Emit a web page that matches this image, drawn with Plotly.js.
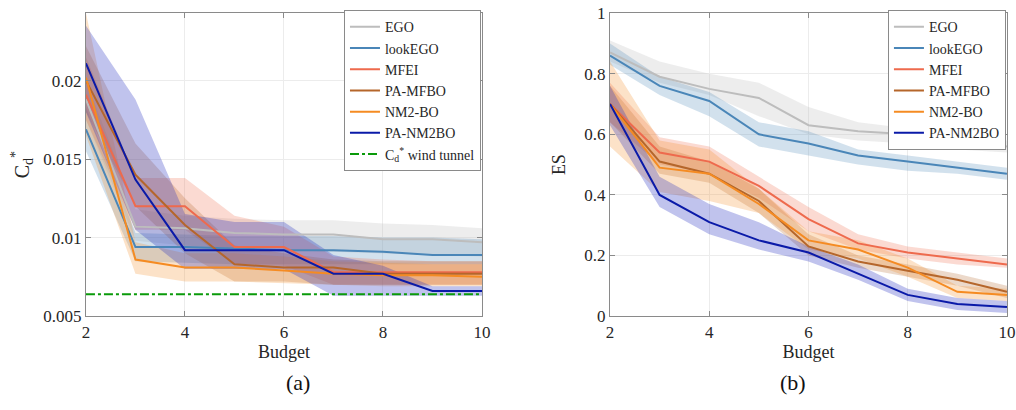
<!DOCTYPE html>
<html><head><meta charset="utf-8">
<script src="https://cdn.plot.ly/plotly-3.0.1.min.js"></script>
<style>html,body{margin:0;padding:0;background:#fff}#chart{width:1016px;height:410px}</style>
</head><body><div id="chart"></div>
<script>
const budget = [2,3,4,5,6,7,8,9,10];
const methods = ["EGO","lookEGO","MFEI","PA-MFBO","NM2-BO","PA-NM2BO"];

// (a) Cd*
const cdEGO      = [0.0188,0.0107,0.0106,0.0103,0.0102,0.0102,0.0099,0.0099,0.0097];
const cdLookEGO  = [0.0169,0.0094,0.0094,0.0093,0.0092,0.0092,0.0091,0.0089,0.0089];
const cdMFEI     = [0.0191,0.0120,0.0120,0.0094,0.0094,0.0078,0.0078,0.0078,0.0078];
const cdPAMFBO   = [0.0200,0.0140,0.0108,0.0083,0.0081,0.0081,0.0077,0.0077,0.0077];
const cdNM2BO    = [0.0202,0.0086,0.0081,0.0081,0.0079,0.0077,0.0076,0.0076,0.0075];
const cdPANM2BO  = [0.0211,0.0137,0.0092,0.0092,0.0092,0.0077,0.0077,0.0066,0.0066];
const cdWindTunnel = 0.0064;

const cdEGOLo     = [0.0175,0.0098,0.0095,0.0093,0.0092,0.0091,0.0090,0.0089,0.0088];
const cdEGOHi     = [0.0200,0.0118,0.0114,0.0112,0.0111,0.0111,0.0109,0.0108,0.0106];
const cdLookEGOLo = [0.0155,0.0085,0.0084,0.0083,0.0083,0.0083,0.0083,0.0083,0.0083];
const cdLookEGOHi = [0.0183,0.0103,0.0102,0.0101,0.0101,0.0101,0.0100,0.0100,0.0099];
const cdMFEILo    = [0.0175,0.0105,0.0105,0.0083,0.0082,0.0070,0.0070,0.0070,0.0070];
const cdMFEIHi    = [0.0215,0.0138,0.0138,0.0114,0.0107,0.0088,0.0086,0.0085,0.0085];
const cdPAMFBOLo  = [0.0180,0.0120,0.0090,0.0072,0.0072,0.0070,0.0070,0.0070,0.0070];
const cdPAMFBOHi  = [0.0222,0.0160,0.0125,0.0095,0.0090,0.0086,0.0085,0.0085,0.0085];
const cdNM2BOLo   = [0.0165,0.0077,0.0072,0.0072,0.0071,0.0070,0.0069,0.0069,0.0069];
const cdNM2BOHi   = [0.0243,0.0097,0.0090,0.0090,0.0088,0.0085,0.0084,0.0083,0.0083];
const cdPANM2BOLo = [0.0180,0.0105,0.0080,0.0080,0.0080,0.0063,0.0063,0.0063,0.0063];
const cdPANM2BOHi = [0.0235,0.0188,0.0115,0.0110,0.0110,0.0089,0.0082,0.0069,0.0069];

// (b) ES
const esEGO      = [0.87,0.79,0.75,0.72,0.63,0.61,0.60,0.58,0.56];
const esLookEGO  = [0.86,0.76,0.71,0.60,0.57,0.53,0.51,0.49,0.47];
const esMFEI     = [0.70,0.54,0.51,0.43,0.32,0.24,0.21,0.19,0.17];
const esPAMFBO   = [0.70,0.51,0.47,0.38,0.23,0.18,0.15,0.12,0.08];
const esNM2BO    = [0.70,0.49,0.47,0.37,0.25,0.22,0.16,0.08,0.07];
const esPANM2BO  = [0.70,0.40,0.31,0.25,0.21,0.14,0.07,0.04,0.03];

const esEGOLo     = [0.84,0.77,0.73,0.66,0.60,0.58,0.57,0.55,0.54];
const esEGOHi     = [0.91,0.84,0.80,0.77,0.69,0.64,0.62,0.60,0.58];
const esLookEGOLo = [0.83,0.73,0.66,0.56,0.53,0.50,0.48,0.47,0.45];
const esLookEGOHi = [0.90,0.79,0.74,0.64,0.61,0.55,0.53,0.51,0.49];
const esMFEILo    = [0.64,0.50,0.47,0.39,0.28,0.22,0.19,0.17,0.16];
const esMFEIHi    = [0.77,0.59,0.56,0.46,0.36,0.27,0.23,0.21,0.19];
const esPAMFBOLo  = [0.64,0.47,0.44,0.34,0.20,0.16,0.13,0.10,0.06];
const esPAMFBOHi  = [0.76,0.56,0.51,0.42,0.27,0.20,0.17,0.14,0.10];
const esNM2BOLo   = [0.56,0.41,0.38,0.34,0.22,0.19,0.13,0.06,0.05];
const esNM2BOHi   = [0.84,0.58,0.55,0.42,0.28,0.25,0.19,0.10,0.09];
const esPANM2BOLo = [0.63,0.36,0.27,0.22,0.18,0.12,0.05,0.02,0.01];
const esPANM2BOHi = [0.76,0.46,0.37,0.31,0.23,0.17,0.09,0.06,0.05];

const xTicks = [2,4,6,8,10];
const cdTicks = [0.005,0.01,0.015,0.02];
const cdTickText = ["0.005","0.01","0.015","0.02"];
const esTicks = [0,0.2,0.4,0.6,0.8,1];
const esTickText = ["0","0.2","0.4","0.6","0.8","1"];

const lineColors = ["#bdbdbd","#4a86b8","#ee6a4d","#b5662b","#f58b22","#0a1aa8"];
const bandColors = ["rgba(190,190,190,0.28)","rgba(74,134,184,0.25)","rgba(238,106,77,0.25)",
                    "rgba(181,102,43,0.25)","rgba(245,139,34,0.25)","rgba(30,40,190,0.28)"];

const cdMeans = [cdEGO,cdLookEGO,cdMFEI,cdPAMFBO,cdNM2BO,cdPANM2BO];
const cdLos = [cdEGOLo,cdLookEGOLo,cdMFEILo,cdPAMFBOLo,cdNM2BOLo,cdPANM2BOLo];
const cdHis = [cdEGOHi,cdLookEGOHi,cdMFEIHi,cdPAMFBOHi,cdNM2BOHi,cdPANM2BOHi];
const esMeans = [esEGO,esLookEGO,esMFEI,esPAMFBO,esNM2BO,esPANM2BO];
const esLos = [esEGOLo,esLookEGOLo,esMFEILo,esPAMFBOLo,esNM2BOLo,esPANM2BOLo];
const esHis = [esEGOHi,esLookEGOHi,esMFEIHi,esPAMFBOHi,esNM2BOHi,esPANM2BOHi];

const FONT = "Liberation Serif";
const TXT = "#262626";
const traces = [];
function addPanel(means, los, his, xa, ya, leg) {
  for (let i = 0; i < methods.length; i++) {
    traces.push({
      x: budget.concat(budget.slice().reverse()),
      y: his[i].concat(los[i].slice().reverse()),
      xaxis: xa, yaxis: ya, type: "scatter", mode: "lines",
      fill: "toself", fillcolor: bandColors[i], line: {width: 0},
      showlegend: false, hoverinfo: "skip"
    });
  }
  for (let i = 0; i < methods.length; i++) {
    traces.push({
      x: budget, y: means[i], xaxis: xa, yaxis: ya, type: "scatter", mode: "lines",
      name: methods[i], line: {color: lineColors[i], width: 2}, legend: leg
    });
  }
}
addPanel(cdMeans, cdLos, cdHis, "x", "y", "legend");
traces.push({
  x: [budget[0], budget[budget.length-1]], y: [cdWindTunnel, cdWindTunnel],
  xaxis: "x", yaxis: "y", type: "scatter", mode: "lines",
  name: "C<sub>d</sub><sup>*</sup> wind tunnel", line: {color: "#0a9a0a", width: 2, dash: "dashdot"},
  legend: "legend"
});
addPanel(esMeans, esLos, esHis, "x2", "y2", "legend2");

const axBase = {
  showline: true, mirror: "ticks", linecolor: "#8a8a8a", linewidth: 1,
  ticks: "inside", ticklen: 5, tickcolor: "#8a8a8a",
  showgrid: true, gridcolor: "#ececec", zeroline: false,
  tickfont: {family: FONT, size: 17, color: TXT}
};
const legBase = {
  bgcolor: "#ffffff", bordercolor: "#8a8a8a", borderwidth: 1,
  font: {family: FONT, size: 14, color: TXT},
  xanchor: "right", yanchor: "top", itemwidth: 30, tracegroupgap: 0
};
const layout = {
  width: 1016, height: 410,
  margin: {l: 0, r: 0, t: 0, b: 0},
  paper_bgcolor: "#ffffff", plot_bgcolor: "#ffffff",
  font: {family: FONT, color: TXT},
  xaxis: Object.assign({}, axBase, {domain: [0.0846, 0.4744], range: [2, 10], tickvals: xTicks,
    title: {text: "Budget", font: {family: FONT, size: 18, color: TXT}, standoff: 2}}),
  yaxis: Object.assign({}, axBase, {domain: [0.229, 0.968], range: [0.005, 0.0243],
    tickvals: cdTicks, ticktext: cdTickText,
    title: {text: "C<sub>d</sub><sup>*</sup>", font: {family: FONT, size: 20, color: TXT}, standoff: 8}}),
  xaxis2: Object.assign({}, axBase, {domain: [0.6004, 0.9911], range: [2, 10], tickvals: xTicks, anchor: "y2",
    title: {text: "Budget", font: {family: FONT, size: 18, color: TXT}, standoff: 2}}),
  yaxis2: Object.assign({}, axBase, {domain: [0.229, 0.968], range: [0, 1], anchor: "x2",
    tickvals: esTicks, ticktext: esTickText,
    title: {text: "ES", font: {family: FONT, size: 18, color: TXT}, standoff: 14}}),
  legend: Object.assign({}, legBase, {x: 0.4734, y: 0.975}),
  legend2: Object.assign({}, legBase, {x: 0.9901, y: 0.975}),
  annotations: [
    {text: "(a)", xref: "paper", yref: "paper", x: 0.2795, y: 0.066, yanchor: "middle", showarrow: false,
     font: {family: FONT, size: 22, color: "#111"}},
    {text: "(b)", xref: "paper", yref: "paper", x: 0.7957, y: 0.066, yanchor: "middle", showarrow: false,
     font: {family: FONT, size: 22, color: "#111"}}
  ],
  showlegend: true
};
Plotly.newPlot("chart", traces, layout, {displayModeBar: false, staticPlot: true});
</script></body></html>
